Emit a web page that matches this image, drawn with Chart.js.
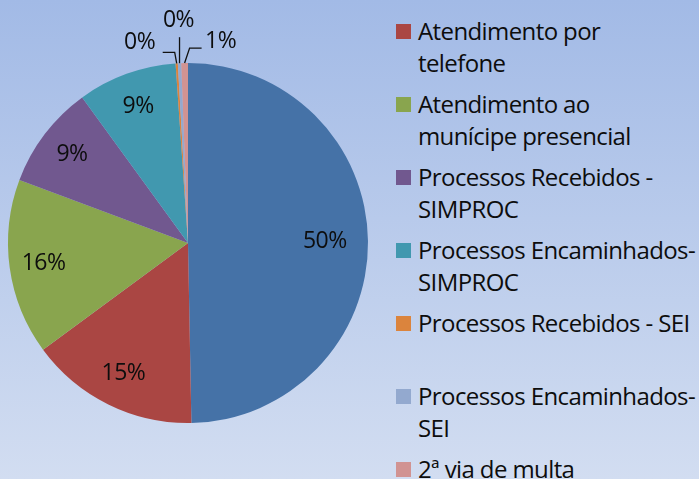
<!DOCTYPE html>
<html>
<head>
<meta charset="utf-8">
<script src="https://cdn.jsdelivr.net/npm/chart.js@4/dist/chart.umd.min.js"></script>
<style>
  html, body { margin: 0; padding: 0; }
  body {
    width: 699px; height: 479px; overflow: hidden; position: relative;
    background: linear-gradient(to bottom, #A2BAE6 0%, #D2DDF1 100%);
    font-family: "Open Sans", sans-serif;
  }
  #wrap { position: absolute; left: 0; top: 0; width: 376px; height: 479px; }
  #legend { position: absolute; left: 396px; top: 15px; width: 303px; margin: 0; padding: 0; list-style: none; }
  #legend li { position: relative; height: 73px; padding-left: 22px; font-size: 24px; letter-spacing: -0.6px; line-height: 31.5px; color: #0d0d0d; box-sizing: border-box; white-space: nowrap; }
  #legend li span.box { position: absolute; left: 0; top: 9px; width: 15px; height: 15px; }
</style>
</head>
<body>
<div id="wrap"><canvas id="c"></canvas></div>
<ul id="legend"></ul>
<script>
// ---- data (percent shares) ----
// category names, split into the lines used by the legend
const categories = [
  [""],
  ["Atendimento por", "telefone"],
  ["Atendimento ao", "munícipe presencial"],
  ["Processos Recebidos -", "SIMPROC"],
  ["Processos Encaminhados-", "SIMPROC"],
  ["Processos Recebidos - SEI"],
  ["Processos Encaminhados-", "SEI"],
  ["2ª via de multa"]
];
const values = [49.7, 15.2, 15.8, 9.3, 8.9, 0.2, 0.3, 0.6];
const colors = ["#4572A7", "#AA4643", "#89A54E", "#71588F", "#4198AF", "#DB843D", "#93A9CF", "#D19392"];

const total = values.reduce((a, b) => a + b, 0);

// HTML legend (first series' entry is not shown in the picture)
const ul = document.getElementById('legend');
categories.forEach((lines, i) => {
  if (!lines.join('')) return;
  const li = document.createElement('li');
  const box = document.createElement('span');
  box.className = 'box';
  box.style.background = colors[i];
  li.appendChild(box);
  lines.forEach((t, k) => {
    if (k) li.appendChild(document.createElement('br'));
    li.appendChild(document.createTextNode(t));
  });
  ul.appendChild(li);
});

const labelPlugin = {
  id: 'pieLabels',
  afterDatasetsDraw(chart) {
    const ctx = chart.ctx;
    const meta = chart.getDatasetMeta(0);
    ctx.save();
    ctx.font = '23px "Open Sans", sans-serif';
    if ('letterSpacing' in ctx) ctx.letterSpacing = '-0.5px';
    ctx.fillStyle = '#0d0d0d';
    ctx.textAlign = 'center';
    ctx.textBaseline = 'middle';
    ctx.strokeStyle = '#111';
    ctx.lineWidth = 1.3;
    let smallIdx = 0;
    meta.data.forEach((arc, i) => {
      const v = values[i];
      const txt = Math.round(v / total * 100) + '%';
      const p = arc.getProps(['x', 'y', 'startAngle', 'endAngle', 'outerRadius'], true);
      const mid = (p.startAngle + p.endAngle) / 2;
      const R = p.outerRadius;
      if (v / total >= 0.02) {
        const f = v / total > 0.4 ? 0.76 : 0.81;
        ctx.fillText(txt, p.x + Math.cos(mid) * R * f, p.y + Math.sin(mid) * R * f);
      } else {
        const ex = p.x + Math.cos(mid) * R;
        const ey = p.y + Math.sin(mid) * R;
        ctx.beginPath();
        if (smallIdx === 0) {
          ctx.moveTo(ex, ey); ctx.lineTo(ex - 2, ey - 11); ctx.lineTo(ex - 14, ey - 11);
          ctx.stroke();
          ctx.fillText(txt, ex - 37, ey - 21);
        } else if (smallIdx === 1) {
          ctx.moveTo(ex, ey); ctx.lineTo(ex, ey - 26);
          ctx.stroke();
          ctx.fillText(txt, ex - 1, ey - 43);
        } else {
          ctx.moveTo(ex, ey); ctx.lineTo(ex + 5, ey - 15); ctx.lineTo(ex + 17, ey - 15);
          ctx.stroke();
          ctx.fillText(txt, ex + 36, ey - 22);
        }
        smallIdx++;
      }
    });
    ctx.restore();
  }
};

new Chart(document.getElementById('c'), {
  type: 'pie',
  data: {
    labels: categories,
    datasets: [{ data: values, backgroundColor: colors, borderWidth: 0 }]
  },
  options: {
    responsive: true,
    maintainAspectRatio: false,
    animation: false,
    layout: { padding: { left: 8, right: 8, top: 63, bottom: 56 } },
    plugins: { legend: { display: false }, tooltip: { enabled: false } }
  },
  plugins: [labelPlugin]
});
</script>
</body>
</html>
